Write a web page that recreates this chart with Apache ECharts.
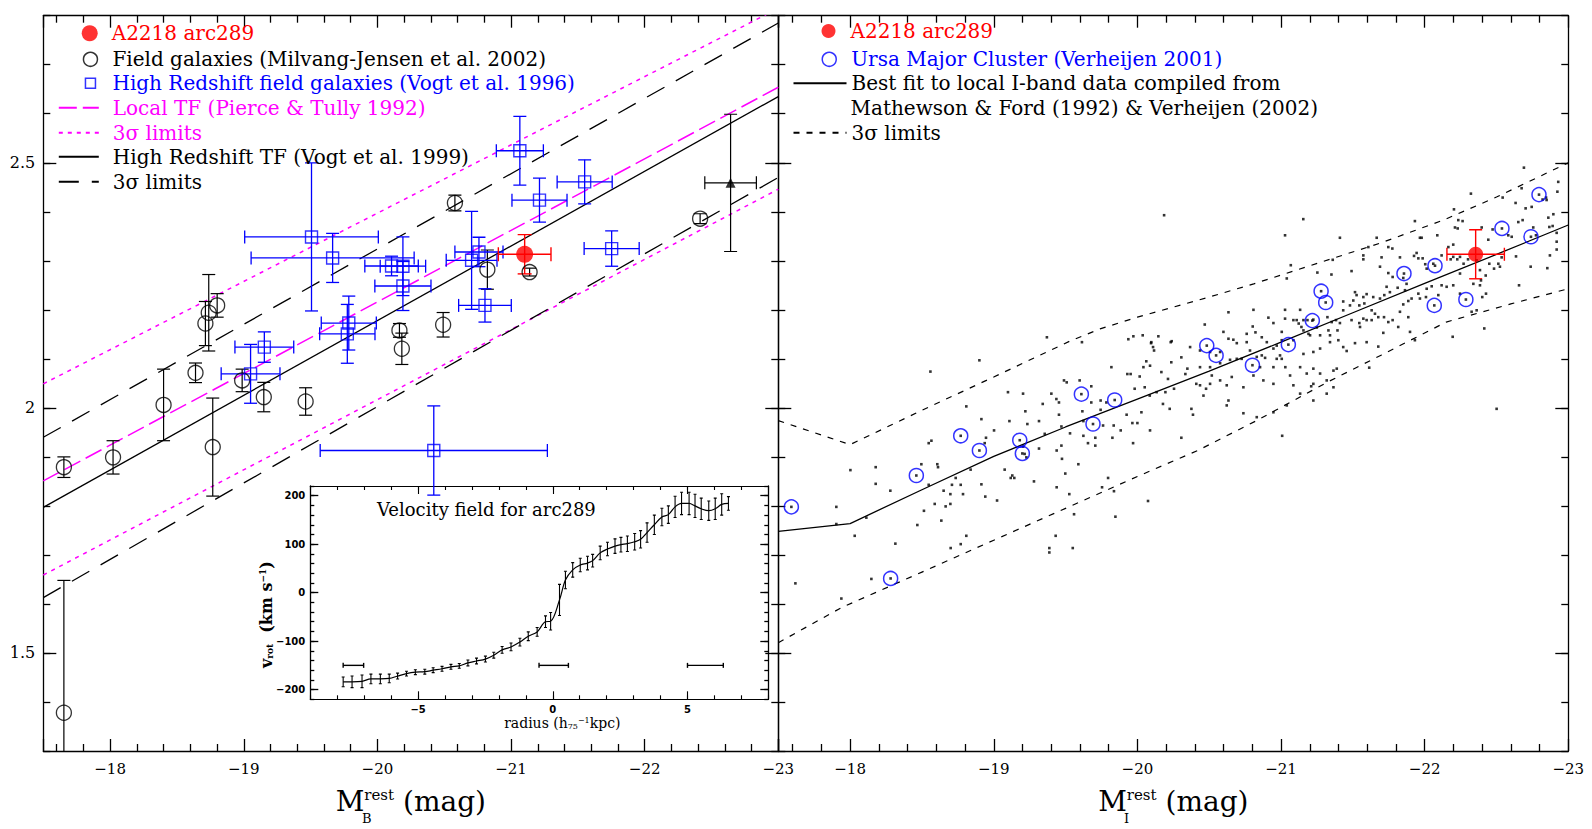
<!DOCTYPE html>
<html><head><meta charset="utf-8">
<script src="https://cdn.jsdelivr.net/npm/echarts@6/dist/echarts.min.js"></script>
<style>html,body{margin:0;padding:0;background:#fff}#c{width:1592px;height:829px}</style>
</head><body><div id="c"></div>
<script>
// ---------------- DATA ----------------
// Left panel: B-band Tully-Fisher
const fieldM   = [-17.654,-18.022,-18.40,-18.768,-18.639,-18.713,-18.738,-18.801,-18.988,-19.150,-19.463,-20.165,-20.183,-20.492,-20.580,-20.823,-21.139,-22.415,-17.654];
const fieldV   = [1.879,1.899,2.006,1.920,2.0715,2.172,2.194,2.209,2.056,2.022,2.013,2.158,2.1205,2.1695,2.418,2.282,2.277,2.386,1.378];
const fieldErr = [0.021,0.034,0.073,0.10,0.02,0.045,0.078,0.024,0.023,0.03,0.028,0.014,0.032,0.025,0.016,0.04,0.008,0.01,0.27];

const vogtM    = [-21.066,-21.551,-21.213,-19.507,-19.665,-20.106,-20.191,-20.191,-20.705,-20.76,-20.805,-21.753,-19.786,-19.775,-19.154,-19.051,-20.422];
const vogtV    = [2.5245,2.461,2.4237,2.3487,2.3058,2.2894,2.289,2.2486,2.301,2.318,2.209,2.3249,2.173,2.151,2.124,2.0694,1.913];
const vogtXerr = [0.176,0.206,0.206,0.50,0.61,0.20,0.17,0.21,0.19,0.18,0.197,0.206,0.206,0.207,0.22,0.22,0.85];
const vogtYerr = [0.070,0.045,0.045,0.151,0.050,0.02,0.06,0.05,0.10,0.03,0.034,0.036,0.055,0.06,0.031,0.06,0.091];

const arcBM = [-21.102], arcBV = [2.3133], arcBXerr = [0.197], arcBYerr = [0.04];
const triM = [-22.643], triV = [2.459], triXerr = [0.193], triYerr = [0.14];

const localTF_M = [-17.5, -23], localTF_V = [1.851, 2.654];
const localUp_V = [2.049, 2.815], localLo_V = [1.659, 2.446];
const hzTF_V = [1.797, 2.635], hzUp_V = [1.940, 2.785], hzLo_V = [1.613, 2.470];

// Right panel: I-band Tully-Fisher
const fitM = [-17.5,-18,-18.5,-19,-19.5,-20,-20.5,-21,-21.5,-22,-22.5,-23];
const fitV = [1.748,1.764,1.833,1.901,1.961,2.018,2.075,2.134,2.194,2.254,2.313,2.373];
const upM = [-17.5,-18,-18.5,-19,-19.54,-19.74,-20.0,-20.5,-20.81,-21.34,-21.7,-22.13,-22.5,-23];
const upV = [1.974,1.925,1.995,2.063,2.1375,2.161,2.185,2.226,2.253,2.303,2.337,2.383,2.43,2.50];
const loM = [-17.5,-17.94,-18.5,-19,-19.5,-20,-20.42,-20.83,-21.32,-21.7,-22.15,-22.6,-23];
const loV = [1.521,1.5925,1.665,1.73,1.795,1.86,1.913,1.974,2.052,2.108,2.175,2.212,2.243];

const umaM = [-17.591,-18.282,-18.461,-18.770,-18.900,-19.181,-19.199,-19.610,-19.691,-19.842,-20.483,-20.548,-20.801,-21.051,-21.218,-21.279,-21.311,-21.856,-22.072,-22.067,-22.287,-22.538,-22.740,-22.796];
const umaV = [1.798,1.652,1.862,1.943,1.913,1.934,1.907,2.028,1.967,2.016,2.127,2.107,2.087,2.129,2.178,2.238,2.215,2.274,2.290,2.209,2.221,2.366,2.349,2.435];

const arcIM = [-22.355], arcIV = [2.3133], arcIXerr = [0.2], arcIYerr = [0.05];

const localDots = [
[-17.619,1.642],[-17.939,1.611],[-18.148,1.651],[-18.315,1.723],[-18.032,1.739],[-18.002,1.873],[-17.904,1.798],[-17.904,1.763],[-18.113,1.776],[-18.178,1.879],[-18.178,1.845],[-18.280,1.831],[-18.468,1.761],[-18.514,1.790],[-18.496,1.885],[-18.547,1.843],[-18.559,2.074],[-18.547,1.928],[-18.566,1.933],[-18.589,1.804],[-18.607,1.885],[-18.612,1.879],[-18.635,1.770],[-18.651,1.831],[-18.665,1.799],[-18.698,1.804],[-18.698,1.824],[-18.709,1.843],[-18.735,1.857],[-18.770,1.843],[-18.786,1.824],[-18.809,2.003],[-18.700,1.714],[-18.770,1.722],[-18.809,1.739],[-18.839,1.874],[-18.900,2.097],[-18.914,1.977],[-18.914,1.844],[-18.937,1.928],[-18.946,1.939],[-18.941,1.819],[-19.002,1.954],[-19.023,1.811],[-19.076,1.874],[-19.099,2.032],[-19.109,1.973],[-19.118,1.857],[-19.129,1.862],[-19.143,1.857],[-19.204,2.029],[-19.204,1.921],[-19.215,1.906],[-19.227,1.899],[-19.220,1.993],[-19.234,1.967],[-19.280,1.850],[-19.315,1.973],[-19.315,1.917],[-19.341,2.008],[-19.355,1.947],[-19.401,2.029],[-19.436,2.018],[-19.438,1.913],[-19.454,2.011],[-19.454,1.986],[-19.471,1.962],[-19.471,1.923],[-19.475,1.896],[-19.498,1.866],[-19.489,2.056],[-19.508,2.052],[-19.526,1.824],[-19.531,1.948],[-19.559,1.783],[-19.589,1.885],[-19.598,2.056],[-19.617,1.993],[-19.624,1.973],[-19.624,1.943],[-19.656,1.928],[-19.679,2.044],[-19.679,2.011],[-19.707,1.939],[-19.707,1.923],[-19.744,2.015],[-19.744,1.996],[-19.754,1.838],[-19.761,1.964],[-19.784,2.011],[-19.796,1.857],[-19.819,2.083],[-19.826,1.939],[-19.835,1.964],[-19.837,1.830],[-19.847,1.778],[-19.884,1.954],[-19.925,1.986],[-19.930,2.069],[-19.953,2.069],[-19.965,1.969],[-19.970,1.928],[-19.981,2.039],[-20.000,1.969],[-20.016,2.064],[-20.028,1.991],[-20.042,2.083],[-20.051,2.042],[-20.062,2.095],[-20.074,1.810],[-20.088,1.954],[-20.088,2.086],[-20.086,2.025],[-20.134,2.032],[-20.167,2.073],[-20.178,2.008],[-20.195,2.032],[-20.213,2.059],[-20.225,1.998],[-20.236,2.093],[-20.255,2.039],[-20.306,2.103],[-20.306,1.939],[-20.334,2.069],[-20.348,2.080],[-20.376,1.998],[-20.387,1.986],[-20.410,2.049],[-19.431,1.739],[-19.387,1.714],[-19.387,1.705],[-19.550,1.714],[-19.438,1.838],[-20.097,2.134],[-20.109,2.124],[-20.116,2.117],[-20.232,2.134],[-19.614,2.134],[-19.37,2.144],
[-21.028,2.352],[-21.068,2.291],[-21.040,2.264],[-21.253,2.276],[-21.351,2.272],[-21.360,2.302],[-20.634,2.195],[-20.808,2.200],[-21.028,2.200],[-21.133,2.200],[-20.912,2.184],[-20.947,2.173],[-21.028,2.182],[-21.086,2.179],[-21.109,2.179],[-21.123,2.172],[-21.142,2.165],[-21.156,2.179],[-21.184,2.179],[-21.225,2.180],[-21.156,2.158],[-21.191,2.151],[-21.249,2.164],[-21.323,2.185],[-21.353,2.175],[-21.383,2.179],[-21.330,2.158],[-21.272,2.148],[-21.341,2.148],[-21.393,2.158],[-21.399,2.138],[-20.469,2.170],[-20.599,2.155],[-20.634,2.141],[-20.668,2.139],[-20.692,2.132],[-20.761,2.151],[-20.803,2.166],[-20.822,2.154],[-20.866,2.144],[-20.761,2.134],[-20.901,2.134],[-20.947,2.121],[-20.970,2.127],[-21.005,2.155],[-21.005,2.138],[-20.993,2.107],[-20.970,2.100],[-21.005,2.100],[-21.086,2.138],[-21.156,2.110],[-21.202,2.148],[-21.225,2.114],[-21.272,2.121],[-21.341,2.134],[-20.367,2.124],[-20.436,2.117],[-20.506,2.114],[-20.576,2.114],[-20.436,2.083],[-20.506,2.083],[-20.576,2.091],[-20.645,2.098],[-20.692,2.100],[-20.726,2.100],[-20.784,2.117],[-20.831,2.104],[-20.866,2.107],[-20.854,2.083],[-20.889,2.102],[-20.947,2.083],[-21.030,2.083],[-21.133,2.083],[-21.179,2.070],[-21.225,2.080],[-21.272,2.070],[-21.365,2.076],[-21.388,2.080],[-21.318,2.056],[-21.225,2.049],[-21.086,2.046],[-21.063,2.066],[-20.947,2.049],[-20.877,2.056],[-20.808,2.066],[-20.738,2.042],[-20.657,2.063],[-20.622,2.046],[-20.576,2.056],[-20.518,2.066],[-20.506,2.049],[-20.478,2.039],[-20.460,2.025],[-20.436,2.046],[-20.634,2.015],[-20.622,2.005],[-20.738,1.989],[-20.831,1.981],[-20.947,1.991],[-21.040,2.005],[-21.133,2.029],[-21.225,2.015],[-21.318,2.029],[-21.365,2.042],[-19.937,2.140],[-19.972,2.146],[-20.037,2.148],[-20.146,2.146],[-20.239,2.136],[-20.095,2.132],[-20.186,2.393],[-21.155,2.385],[-21.008,1.943],[-21.21,2.044],
[-22.691,2.490],[-22.322,2.437],[-22.543,2.429],[-22.675,2.448],[-22.930,2.461],[-22.924,2.441],[-22.204,2.405],[-22.234,2.383],[-22.264,2.381],[-22.633,2.418],[-22.703,2.407],[-22.745,2.410],[-22.896,2.395],[-22.861,2.388],[-22.849,2.424],[-21.932,2.381],[-21.967,2.347],[-21.979,2.347],[-22.088,2.352],[-22.211,2.368],[-22.230,2.366],[-22.397,2.368],[-22.443,2.343],[-22.473,2.364],[-22.582,2.352],[-22.606,2.349],[-22.652,2.379],[-22.682,2.383],[-22.756,2.368],[-22.775,2.352],[-22.821,2.425],[-22.845,2.429],[-22.868,2.369],[-22.891,2.371],[-22.919,2.357],[-22.919,2.339],[-22.919,2.323],[-22.872,2.311],[-22.636,2.309],[-22.536,2.307],[-22.524,2.288],[-22.513,2.294],[-22.483,2.284],[-22.450,2.294],[-22.425,2.270],[-22.392,2.260],[-22.385,2.281],[-22.362,2.301],[-22.302,2.303],[-22.271,2.294],[-22.246,2.274],[-22.246,2.308],[-22.227,2.303],[-22.199,2.308],[-22.181,2.303],[-22.199,2.333],[-22.165,2.328],[-22.118,2.311],[-22.060,2.294],[-22.014,2.284],[-22.004,2.293],[-21.986,2.305],[-21.956,2.305],[-21.944,2.316],[-21.926,2.310],[-21.828,2.307],[-21.775,2.325],[-21.747,2.328],[-21.700,2.307],[-21.689,2.288],[-21.666,2.347],[-21.608,2.328],[-21.573,2.303],[-21.573,2.311],[-21.491,2.279],[-21.410,2.347],[-21.747,2.275],[-21.777,2.267],[-21.851,2.265],[-21.874,2.253],[-21.812,2.245],[-21.863,2.240],[-21.758,2.236],[-21.735,2.247],[-21.719,2.230],[-21.689,2.223],[-21.642,2.226],[-21.596,2.232],[-21.580,2.213],[-21.545,2.209],[-21.515,2.236],[-21.526,2.230],[-21.573,2.226],[-21.503,2.219],[-21.480,2.209],[-21.433,2.217],[-21.433,2.199],[-21.410,2.173],[-21.491,2.179],[-21.545,2.173],[-21.550,2.165],[-21.573,2.182],[-21.631,2.199],[-21.654,2.192],[-21.677,2.185],[-21.717,2.185],[-21.747,2.175],[-21.777,2.179],[-21.851,2.211],[-21.886,2.218],[-21.909,2.223],[-21.956,2.233],[-21.967,2.223],[-22.009,2.226],[-22.014,2.243],[-22.049,2.248],[-22.095,2.230],[-22.118,2.250],[-22.153,2.247],[-22.199,2.250],[-22.339,2.253],[-22.385,2.250],[-22.401,2.226],[-22.427,2.233],[-22.327,2.196],[-22.362,2.199],[-22.415,2.162],[-22.246,2.233],[-21.596,2.179],[-21.631,2.179],[-21.828,2.196],[-21.816,2.165],[-21.886,2.185],[-21.898,2.155],[-21.932,2.138],[-21.712,2.153],[-21.677,2.125],[-21.596,2.134],[-21.515,2.132],[-21.457,2.116],[-21.433,2.124],[-21.614,2.082],[-22.195,2.145],[-22.501,1.998],[-22.657,2.250],[-22.738,2.288],[-22.854,2.285]
];

// Inset: rotation curve
const rotR = [-7.78,-7.45,-7.08,-6.75,-6.40,-6.07,-5.76,-5.43,-5.10,-4.75,-4.44,-4.11,-3.78,-3.47,-3.15,-2.83,-2.50,-2.19,-1.88,-1.55,-1.22,-0.91,-0.58,-0.27,-0.08,0.25,0.47,0.74,1.02,1.29,1.48,1.76,2.03,2.31,2.53,2.77,3.04,3.26,3.50,3.77,4.05,4.29,4.54,4.78,5.06,5.28,5.51,5.79,6.03,6.27,6.52];
const rotV = [-184,-184,-183,-178,-178,-177,-172,-167,-164,-163,-160,-157,-153,-151,-145,-141,-137,-129,-118,-112,-102,-90,-81,-60,-59,-15,26,47,57,61,66,82,90,96,99,101,105,110,124,140,156,161,177,184,184,179,173,169,173,182,184];
const rotErr = [10,12,13,10,10,9,6,5,5,5,5,5,5,5,6,6,6,6,7,8,8,9,9,12,18,32,18,15,14,14,13,14,14,15,15,16,17,18,20,20,18,18,22,23,23,24,22,20,22,22,14];
const resLo = [-7.78,-0.51,5.0], resHi = [-7.02,0.58,6.33], resV = [-150,-150,-150];

// tick labels
const mainYMajor = [1.5, 2, 2.5];
const insetXMajor = [-5, 0, 5];
const insetYMajor = [-200, -100, 0, 100, 200];

const names = {
  a2218L:'A2218 arc289', field:'Field galaxies (Milvang-Jensen et al. 2002)',
  vogt96:'High Redshift field galaxies (Vogt et al. 1996)', localTF:'Local TF (Pierce & Tully 1992)',
  magSigma:'3σ limits', hzTF:'High Redshift TF (Vogt et al. 1999)', hzSigma:'3σ limits',
  a2218R:'A2218 arc289', uma:'Ursa Major Cluster (Verheijen 2001)',
  fitI:'Best fit to local I-band data compiled from', localSigma:'3σ limits'
};

// ---------------- CHART ----------------
const F = 'DejaVu Serif';
const RED = '#ff0000', BLUE = '#0000ff', MAG = '#ff00ff', BLK = '#000000';
const zip = (a, b) => a.map((x, i) => [x, b[i]]);
const neg = v => (v < 0 ? '\u2212' + Math.abs(v) : String(v));

function mainX(grid, pos, labels) {
  return { type:'value', gridIndex:grid, position:pos, min:-23, max:-17.5, inverse:true, interval:1,
    axisLine:{show:true, onZero:false, lineStyle:{color:BLK, width:1.3}},
    axisTick:{show:true, inside:true, length:12, lineStyle:{color:BLK, width:1.3}},
    minorTick:{show:true, splitNumber:5, length:7, lineStyle:{color:BLK, width:1.3}},
    axisLabel:{show:labels, showMaxLabel:false, margin:10, fontSize:15, color:BLK, fontFamily:F, formatter:neg},
    splitLine:{show:false}, minorSplitLine:{show:false} };
}
function yBase(grid, pos, min, max, interval, len) {
  return { type:'value', gridIndex:grid, position:pos, min, max, interval,
    axisLine:{show:true, onZero:false, lineStyle:{color:BLK, width:1.3}},
    axisTick:{show:true, inside:true, length:len, lineStyle:{color:BLK, width:1.3}},
    axisLabel:{show:false}, splitLine:{show:false} };
}
function yMajor(grid, pos, min, max, interval, vals, len, label) {
  return { type:'value', gridIndex:grid, position:pos, min, max, interval,
    axisLine:{show:false, onZero:false},
    axisTick:{show:true, inside:true, length:len, customValues:vals, lineStyle:{color:BLK, width:1.3}},
    axisLabel:Object.assign({show:!!label, customValues:vals, color:BLK}, label||{}),
    splitLine:{show:false} };
}
function insetX(pos, major, label) {
  return { type:'value', gridIndex:2, position:pos, min:-9, max:8, interval:1,
    axisLine:{show:!major, onZero:false, lineStyle:{color:BLK, width:1.2}},
    axisTick:major ? {show:true, inside:true, length:8, customValues:insetXMajor, lineStyle:{color:BLK, width:1.1}}
                   : {show:true, inside:true, length:4, lineStyle:{color:BLK, width:1.1}},
    axisLabel:label ? {show:true, customValues:insetXMajor, margin:5, fontSize:10, fontWeight:'bold', fontFamily:'DejaVu Sans', color:BLK, formatter:neg} : {show:false},
    splitLine:{show:false} };
}

const lgText = {fontFamily:F, fontSize:20, lineHeight:20};
function lg(name, color, left, rowY, w, h, pad) {
  return { show:true, selectedMode:false, left, top:rowY - 10, padding:0, itemWidth:w, itemHeight:h, itemGap:0,
    data:[{name, textStyle:{color}}], formatter:n => names[n],
    itemStyle:{borderWidth:1.5},
    textStyle:Object.assign({}, lgText, {color, padding:[0,0,0,pad||0]}) };
}

function errRender(cap, color, lw) {
  return function (params, api) {
    const x = api.value(0), y = api.value(1), ex = api.value(2), ey = api.value(3);
    const st = {stroke:color, lineWidth:lw, fill:'none'};
    const c = api.coord([x, y]);
    const kids = [];
    if (ey > 0) {
      const t = api.coord([x, y + ey]), b = api.coord([x, y - ey]);
      kids.push({type:'line', shape:{x1:c[0], y1:t[1], x2:c[0], y2:b[1]}, style:st});
      kids.push({type:'line', shape:{x1:c[0]-cap, y1:t[1], x2:c[0]+cap, y2:t[1]}, style:st});
      kids.push({type:'line', shape:{x1:c[0]-cap, y1:b[1], x2:c[0]+cap, y2:b[1]}, style:st});
    }
    if (ex > 0) {
      const l = api.coord([x - ex, y]), r = api.coord([x + ex, y]);
      kids.push({type:'line', shape:{x1:l[0], y1:c[1], x2:r[0], y2:c[1]}, style:st});
      kids.push({type:'line', shape:{x1:l[0], y1:c[1]-cap, x2:l[0], y2:c[1]+cap}, style:st});
      kids.push({type:'line', shape:{x1:r[0], y1:c[1]-cap, x2:r[0], y2:c[1]+cap}, style:st});
    }
    return {type:'group', children:kids};
  };
}
function resRender(params, api) {
  const a = api.coord([api.value(0), api.value(2)]), b = api.coord([api.value(1), api.value(2)]);
  const st = {stroke:BLK, lineWidth:1.4, fill:'none'};
  return {type:'group', children:[
    {type:'line', shape:{x1:a[0], y1:a[1], x2:b[0], y2:b[1]}, style:st},
    {type:'line', shape:{x1:a[0], y1:a[1]-2.5, x2:a[0], y2:a[1]+2.5}, style:st},
    {type:'line', shape:{x1:b[0], y1:b[1]-2.5, x2:b[0], y2:b[1]+2.5}, style:st}]};
}
const errSeries = (xi, yi, data, cap, color, lw) => ({type:'custom', xAxisIndex:xi, yAxisIndex:yi, data,
  renderItem:errRender(cap, color, lw), encode:{x:0, y:1}, clip:true, silent:true, z:3});
const lineS = (name, xi, yi, data, color, width, type, z) => ({type:'line', name, xAxisIndex:xi, yAxisIndex:yi, data,
  symbol:'none', showSymbol:false, lineStyle:{color, width, type}, itemStyle:{color:'rgba(0,0,0,0)'}, silent:true, clip:true, z:z||2});

const yLab = {margin:8, fontSize:16, fontFamily:F};
const insetYLab = {margin:5, fontSize:10, fontWeight:'bold', fontFamily:'DejaVu Sans', formatter:neg};
const mName = {fontFamily:F, fontSize:28, color:BLK, rich:{m:{fontSize:28, fontFamily:F, color:BLK}, s:{fontSize:15, fontFamily:F, color:BLK, verticalAlign:'top'}}};

const option = {
  animation:false,
  backgroundColor:'#fff',
  textStyle:{fontFamily:F},
  title:{text:'Velocity field for arc289', left:377, top:500, padding:0,
    textStyle:{fontFamily:F, fontSize:18, fontWeight:'normal', color:BLK}},
  grid:[
    {left:43.3, top:15.7, width:735, height:735.3, outerBoundsMode:'none'},
    {left:778.3, top:15.7, width:790, height:735.3, outerBoundsMode:'none'},
    {left:310.3, top:486, width:458, height:213.3, outerBoundsMode:'none'}
  ],
  xAxis:[
    Object.assign(mainX(0, 'bottom', true), {name:'{m|M}{s|rest} {m|(mag)}', nameLocation:'middle', nameGap:36, nameMoveOverlap:false, nameTextStyle:mName}),
    mainX(0, 'top', false),
    Object.assign(mainX(1, 'bottom', true), {name:'{m|M}{s|rest} {m|(mag)}', nameLocation:'middle', nameGap:36, nameMoveOverlap:false, nameTextStyle:mName}),
    mainX(1, 'top', false),
    insetX('bottom', false, false),
    Object.assign(insetX('bottom', true, true), {name:'{n|radius (h}{b|75}{p|\u22121}{n|kpc)}', nameLocation:'middle', nameGap:17, nameMoveOverlap:false,
      nameTextStyle:{padding:[0,0,0,46], rich:{n:{fontSize:14, fontFamily:F, color:BLK}, b:{fontSize:8, fontFamily:F, color:BLK, verticalAlign:'bottom'}, p:{fontSize:8, fontFamily:F, color:BLK, verticalAlign:'top'}}}}),
    insetX('top', false, false),
    insetX('top', true, false)
  ],
  yAxis:[
    yBase(0, 'left', 1.3, 2.8, 0.1, 7),
    yMajor(0, 'left', 1.3, 2.8, 0.1, mainYMajor, 13, yLab),
    yBase(0, 'right', 1.3, 2.8, 0.1, 7),
    yMajor(0, 'right', 1.3, 2.8, 0.1, mainYMajor, 13, null),
    yBase(1, 'left', 1.3, 2.8, 0.1, 7),
    yMajor(1, 'left', 1.3, 2.8, 0.1, mainYMajor, 13, null),
    yBase(1, 'right', 1.3, 2.8, 0.1, 7),
    yMajor(1, 'right', 1.3, 2.8, 0.1, mainYMajor, 13, null),
    yBase(2, 'left', -220, 220, 20, 4),
    Object.assign(yMajor(2, 'left', -220, 220, 20, insetYMajor, 8, insetYLab), {
      name:'{n|v}{b|rot}{n|  (km s}{p|\u22121}{n|)}', nameLocation:'middle', nameRotate:90, nameGap:36, nameMoveOverlap:false,
      nameTextStyle:{padding:[0,44,0,0], rich:{n:{fontSize:16, fontWeight:'bold', fontFamily:F, color:BLK}, b:{fontSize:9, fontWeight:'bold', fontFamily:F, color:BLK, verticalAlign:'bottom'}, p:{fontSize:9, fontWeight:'bold', fontFamily:F, color:BLK, verticalAlign:'top'}}}}),
    yBase(2, 'right', -220, 220, 20, 4),
    yMajor(2, 'right', -220, 220, 20, insetYMajor, 8, null)
  ],
  legend:[
    lg('a2218L', RED, 81.7, 33.3, 34, 16),
    lg('field', BLK, 82.7, 59.3, 34, 14),
    lg('vogt96', BLUE, 84.7, 83.3, 10, 10, 12),
    lg('localTF', MAG, 57.8, 107.7, 40, 2, 9),
    lg('magSigma', MAG, 57.8, 132.7, 40, 2, 9),
    lg('hzTF', BLK, 57.8, 156.7, 40, 2, 9),
    lg('hzSigma', BLK, 57.8, 181.7, 40, 2, 9),
    lg('a2218R', RED, 821.5, 31, 34, 14),
    lg('uma', BLUE, 821.5, 59.3, 34, 14),
    lg('fitI', BLK, 792.5, 83.3, 53, 2),
    lg('localSigma', BLK, 792.5, 132.7, 53, 2)
  ],
  graphic:[
    {type:'text', x:850.5, y:108.3, silent:true, style:{text:'Mathewson & Ford (1992) & Verheijen (2002)', fontSize:20, fontFamily:F, fill:BLK, verticalAlign:'middle', align:'left'}},
    {type:'text', x:362, y:818, silent:true, style:{text:'B', fontSize:13, fontFamily:F, fill:BLK, verticalAlign:'middle', align:'left'}},
    {type:'text', x:1124, y:818, silent:true, style:{text:'I', fontSize:13, fontFamily:F, fill:BLK, verticalAlign:'middle', align:'left'}}
  ],
  series:[
    // left panel lines
    lineS('localTF', 0, 0, zip(localTF_M, localTF_V), MAG, 1.5, [18, 6]),
    lineS('magSigma', 0, 0, zip(localTF_M, localUp_V), MAG, 1.5, [4, 5]),
    lineS('magSigma', 0, 0, zip(localTF_M, localLo_V), MAG, 1.5, [4, 5]),
    lineS('hzTF', 0, 0, zip(localTF_M, hzTF_V), BLK, 1.3, 'solid'),
    lineS('hzSigma', 0, 0, zip(localTF_M, hzUp_V), BLK, 1.3, [20, 13]),
    lineS('hzSigma', 0, 0, zip(localTF_M, hzLo_V), BLK, 1.3, [20, 13]),
    // left panel error bars
    errSeries(0, 0, fieldM.map((m, i) => [m, fieldV[i], 0, fieldErr[i]]), 6.5, BLK, 1.2),
    errSeries(0, 0, vogtM.map((m, i) => [m, vogtV[i], vogtXerr[i], vogtYerr[i]]), 6.5, BLUE, 1.3),
    errSeries(0, 0, triM.map((m, i) => [m, triV[i], triXerr[i], triYerr[i]]), 6.5, BLK, 1.2),
    errSeries(0, 0, arcBM.map((m, i) => [m, arcBV[i], arcBXerr[i], arcBYerr[i]]), 7, RED, 1.4),
    // left panel markers
    {type:'scatter', name:'field', xAxisIndex:0, yAxisIndex:0, data:zip(fieldM, fieldV), symbol:'circle', symbolSize:15,
      itemStyle:{color:'rgba(0,0,0,0)', borderColor:BLK, borderWidth:1.3}, silent:true, z:4},
    {type:'scatter', name:'vogt96', xAxisIndex:0, yAxisIndex:0, data:zip(vogtM, vogtV), symbol:'rect', symbolSize:12,
      itemStyle:{color:'rgba(0,0,0,0)', borderColor:BLUE, borderWidth:1.4}, silent:true, z:4},
    {type:'scatter', name:'tri', xAxisIndex:0, yAxisIndex:0, data:zip(triM, triV), symbol:'triangle', symbolSize:10,
      itemStyle:{color:BLK}, silent:true, z:4},
    {type:'scatter', name:'a2218L', xAxisIndex:0, yAxisIndex:0, data:zip(arcBM, arcBV), symbol:'circle', symbolSize:17,
      itemStyle:{color:RED}, silent:true, z:5},
    // right panel
    lineS('fitI', 2, 4, zip(fitM, fitV), BLK, 1.3, 'solid'),
    lineS('localSigma', 2, 4, zip(upM, upV), BLK, 1.2, [6, 7]),
    lineS('localSigma', 2, 4, zip(loM, loV), BLK, 1.2, [6, 7]),
    {type:'scatter', name:'dots', xAxisIndex:2, yAxisIndex:4, data:localDots.concat(zip(umaM, umaV)), symbol:'rect', symbolSize:2.6,
      itemStyle:{color:BLK}, silent:true, z:3},
    {type:'scatter', name:'uma', xAxisIndex:2, yAxisIndex:4, data:zip(umaM, umaV), symbol:'circle', symbolSize:14,
      itemStyle:{color:'rgba(0,0,0,0)', borderColor:BLUE, borderWidth:1.5}, silent:true, z:4},
    errSeries(2, 4, arcIM.map((m, i) => [m, arcIV[i], arcIXerr[i], arcIYerr[i]]), 6.5, RED, 1.4),
    {type:'scatter', name:'a2218R', xAxisIndex:2, yAxisIndex:4, data:zip(arcIM, arcIV), symbol:'circle', symbolSize:15,
      itemStyle:{color:RED}, silent:true, z:5},
    // inset
    {type:'line', name:'rot', xAxisIndex:4, yAxisIndex:8, data:zip(rotR, rotV), symbol:'none', smooth:0.35,
      lineStyle:{color:BLK, width:1.2}, silent:true, z:3},
    errSeries(4, 8, rotR.map((r, i) => [r, rotV[i], 0, rotErr[i]]), 1.5, BLK, 1.1),
    {type:'custom', xAxisIndex:4, yAxisIndex:8, data:resLo.map((lo, i) => [lo, resHi[i], resV[i]]),
      renderItem:resRender, encode:{x:[0, 1], y:2}, silent:true, z:3}
  ]
};

const chart = echarts.init(document.getElementById('c'), null, {renderer:'svg', width:1592, height:829});
chart.setOption(option);
</script></body></html>
